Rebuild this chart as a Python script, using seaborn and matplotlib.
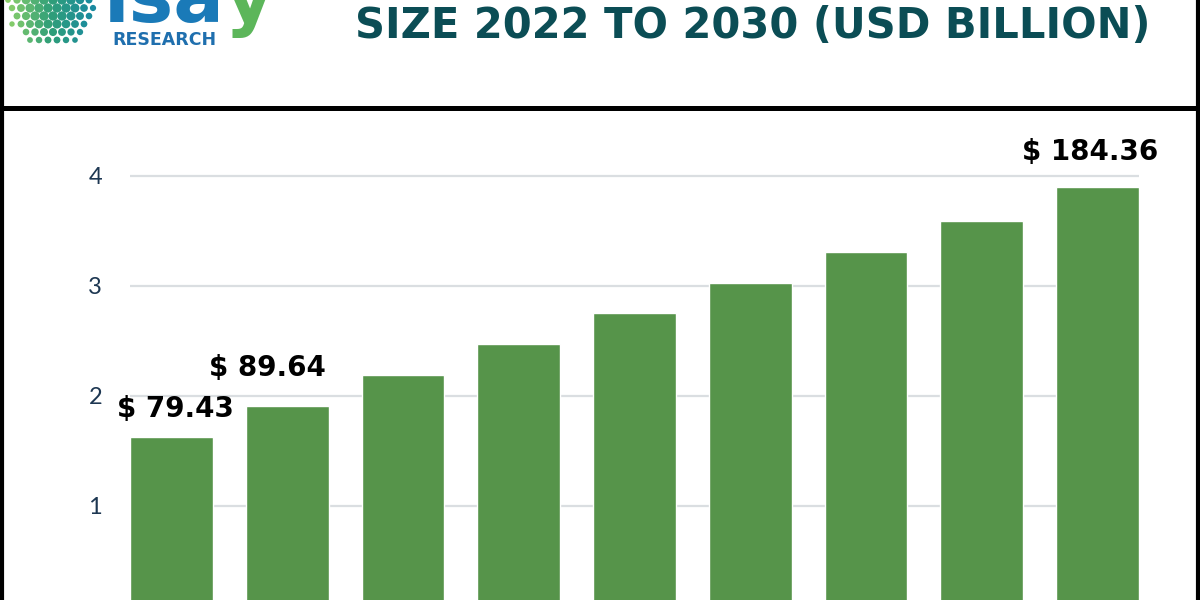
#Bar chart of market size 2022-2030 (USD billion) - green bars with header box
import numpy as np
import pandas as pd
import matplotlib.pyplot as plt
import seaborn as sns
from matplotlib.lines import Line2D

#chart data
years = ['2022', '2023', '2024', '2025', '2026', '2027', '2028', '2029', '2030']
values = [1.63, 1.91, 2.19, 2.47, 2.75, 3.03, 3.31, 3.59, 3.90]
yticks = [1, 2, 3, 4]
#value labels shown over a few bars
label_idx = [0, 1, 8]
label_txt = ['$ 79.43', '$ 89.64', '$ 184.36']

title = 'SIZE 2022 TO 2030 (USD BILLION)'

df = pd.DataFrame({'year': years, 'value': values})

sns.set_style("white")
plt.rcParams['font.family'] = ['Lato', 'DejaVu Sans']

fig = plt.figure(figsize=(12, 6), dpi=100)
W, H = 1200, 600

#main axes - placed in pixel terms of the picture
ax = fig.add_axes([130 / W, 0, (1139 - 130) / W, 480 / H])
sns.barplot(data=df, x='year', y='value', color='#56944a', width=0.716,
            saturation=1, ax=ax, zorder=3)
ax.set_xlim(-0.358, 8.358)
ax.set_ylim(16 / 110, 496 / 110)
ax.set_yticks(yticks)
ax.set_yticklabels([str(t) for t in yticks], fontsize=17, color='#1d3752')
ax.tick_params(axis='y', length=0, pad=20)
ax.set_xticks([])
ax.set_xlabel('')
ax.set_ylabel('')
ax.grid(axis='y', color='#dadee1', linewidth=1.6, zorder=0)
ax.set_axisbelow(True)
for s in ax.spines.values():
    s.set_visible(False)

#value labels over bars
offsets = [(3, 10), (-14, 17), (-5, 15)]
for i, t, off in zip(label_idx, label_txt, offsets):
    ax.annotate(t, xy=(i, values[i]), xytext=off, textcoords='offset points',
                ha='center', va='bottom', fontsize=20, fontweight='bold',
                color='black', family=['DejaVu Sans'])

#title in header
fig.text(753 / W, 1 - 38 / H, title, ha='center', va='baseline', fontsize=30,
         fontweight='bold', color='#0b4d55', family=['DejaVu Sans'])

#logo bits (partly cut at the top)
fig.text(112 / W, 1 - 45 / H, 'RESEARCH', ha='left', va='baseline', fontsize=12.5,
         fontweight='bold', color='#1f6fae', family=['DejaVu Sans'])
fig.text(104 / W, 1 - 22 / H, 'isa', ha='left', va='baseline', fontsize=54,
         fontweight='bold', color='#1a7ab8', family=['DejaVu Sans'])
fig.text(224 / W, 1 - 22 / H, 'y', ha='left', va='baseline', fontsize=54,
         fontweight='bold', color='#5cb65a', family=['DejaVu Sans'])

#dotted globe
lax = fig.add_axes([0, 1 - 60 / H, 100 / W, 60 / H])
lax.set_xlim(0, 100)
lax.set_ylim(60, 0)
lax.axis('off')
gx, gy = np.meshgrid(np.arange(8, 100, 9), np.arange(-40, 60, 8))
gx = gx + (gy // 8 % 2) * 4
r = np.hypot(gx - 52, gy - 2)
m = (r < 46) & (gy >= 0)
sz = np.clip(70 - r[m] * 1.2, 4, 45)
lax.scatter(gx[m], gy[m], s=sz, c=gx[m], cmap=sns.blend_palette(['#8cd06a', '#2f9e78', '#1a8aa0'], as_cmap=True),
            linewidths=0)

#black frame lines
for line in [
    Line2D([1.5 / W, 1.5 / W], [0, 1], lw=3, color='black'),
    Line2D([1198 / W, 1198 / W], [0, 1], lw=3, color='black'),
    Line2D([0, 1], [1 - 108 / H, 1 - 108 / H], lw=3.6, color='black'),
]:
    line.set_transform(fig.transFigure)
    fig.lines.append(line)

fig.savefig('out.png', dpi=100)
